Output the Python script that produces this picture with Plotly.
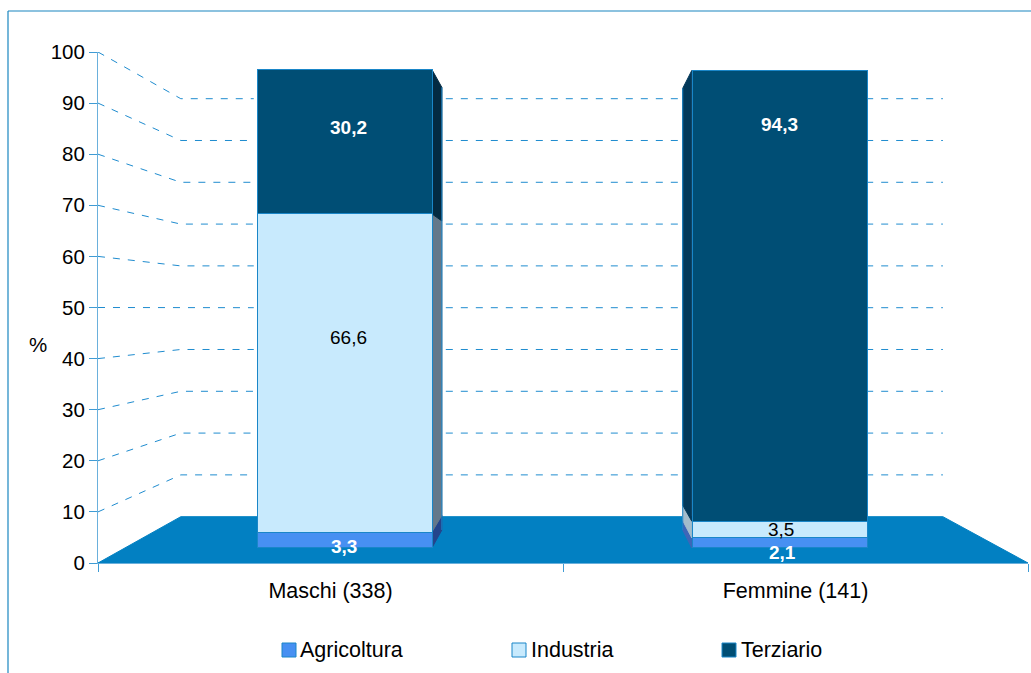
import plotly.graph_objects as go

# ---------- data ----------
groups = ["Maschi (338)", "Femmine (141)"]
series_names = ["Agricoltura", "Industria", "Terziario"]
agricoltura = [3.3, 2.1]
industria = [66.6, 3.5]
terziario = [30.2, 94.3]
value_labels = [["3,3", "2,1"], ["66,6", "3,5"], ["30,2", "94,3"]]
y_ticks = [0, 10, 20, 30, 40, 50, 60, 70, 80, 90, 100]

# ---------- style ----------
FONT = "Liberation Sans, Arial, sans-serif"
W, H = 1031, 673
L, R, T, B = 98, 3, 52, 110
plot_w, plot_h = W - L - R, H - T - B
face_colors = ["#4790f2", "#c8eafd", "#004e75"]
side_colors = {0: ["#24448c", "#64788a", "#032a42"], 1: ["#3d66b8", "#a3bccb", "#03395a"]}
label_colors = ["white", "black", "white"]
label_bold = [True, False, True]
LINE = "#1a86c8"
GRID = "#1f8ccf"
FLOOR = "#0280c2"

X_RANGE = [0, 2]
Y_RANGE = [0, 100]
BAR_Y_RANGE = [-3.15, 103.76]      # secondary scale used by the perspective bars
bar_left_offset = [-0.157, -0.2205]
bar_width = 0.376
bar_center_x = [0.53, 1.465]
side_dx = [0.0215, -0.0195]        # depth of the bar side faces, signed
side_scale = 0.925
wall_x = [0.178, 1.817]
wall_scale = 0.818
wall_mid = 49.8
gaps = [(0.335, 0.748), (1.26, 1.652)]  # bar shadows in gridlines
label_x = [[0.53, 1.471], [0.538, 1.469], [0.538, 1.465]]
label_y = [[0.4, -1.0], [44.1, 3.8], [87.9, 88.5]]


def bar_to_main(v):
    px = (v - BAR_Y_RANGE[0]) / (BAR_Y_RANGE[1] - BAR_Y_RANGE[0])
    return px * 100


def perspective(v, scale):
    return wall_mid + (v - wall_mid) * scale


fig = go.Figure()

# floor
floor_y = perspective(0, wall_scale)
fig.add_trace(go.Scatter(
    x=[X_RANGE[0], wall_x[0], wall_x[1], X_RANGE[1], X_RANGE[0]],
    y=[0, floor_y, floor_y, 0, 0],
    mode="lines", fill="toself", fillcolor=FLOOR, line=dict(color=FLOOR, width=1),
    hoverinfo="skip", showlegend=False, xaxis="x", yaxis="y"))

# perspective gridlines
for tick in y_ticks[1:]:
    by = perspective(tick, wall_scale)
    xs = [X_RANGE[0], wall_x[0], gaps[0][0], None, gaps[0][1], gaps[1][0], None, gaps[1][1], wall_x[1]]
    ys = [tick, by, by, None, by, by, None, by, by]
    fig.add_trace(go.Scatter(
        x=xs, y=ys, mode="lines", line=dict(color=GRID, width=1, dash="7px,8px"),
        hoverinfo="skip", showlegend=False, xaxis="x", yaxis="y"))

# bar side faces
all_series = [agricoltura, industria, terziario]
for g in range(len(groups)):
    edge = bar_center_x[g] + (bar_width / 2 if side_dx[g] > 0 else -bar_width / 2)
    base = 0.0
    for s, vals in enumerate(all_series):
        y0, y1 = bar_to_main(base), bar_to_main(base + vals[g])
        fig.add_trace(go.Scatter(
            x=[edge, edge + side_dx[g], edge + side_dx[g], edge, edge],
            y=[y0, perspective(y0, side_scale), perspective(y1, side_scale), y1, y0],
            mode="lines", fill="toself", fillcolor=side_colors[g][s],
            line=dict(color=side_colors[g][s], width=1),
            hoverinfo="skip", showlegend=False, xaxis="x", yaxis="y"))
        base += vals[g]
    fig.add_trace(go.Scatter(
        x=[edge + side_dx[g]] * 2,
        y=[perspective(bar_to_main(0), side_scale), perspective(bar_to_main(base), side_scale)],
        mode="lines", line=dict(color=LINE, width=1),
        hoverinfo="skip", showlegend=False, xaxis="x", yaxis="y"))

# stacked front faces
for s, vals in enumerate(all_series):
    fig.add_trace(go.Bar(
        x=groups, y=vals, name=series_names[s], offset=bar_left_offset, width=bar_width,
        marker=dict(color=face_colors[s], line=dict(color=LINE, width=1)),
        showlegend=False, xaxis="x2", yaxis="y2"))

# value labels
annotations = []
for s in range(len(series_names)):
    for g in range(len(groups)):
        txt = value_labels[s][g]
        annotations.append(dict(
            x=label_x[s][g], y=label_y[s][g], xref="x", yref="y2",
            text=f"<b>{txt}</b>" if label_bold[s] else txt, showarrow=False,
            font=dict(family=FONT, size=19, color=label_colors[s]),
            xanchor="center", yanchor="middle"))


def px_x(p):
    return (p - L) / plot_w


def px_y(p):
    return 1 - (p - T) / plot_h


annotations.append(dict(
    x=px_x(38), y=px_y(344), xref="paper", yref="paper", text="%", showarrow=False,
    font=dict(family=FONT, size=20.5, color="black"), xanchor="center", yanchor="middle"))

# frame
shapes = [
    dict(type="line", xref="paper", yref="paper", x0=px_x(8), x1=px_x(8), y0=px_y(11), y1=px_y(673),
         line=dict(color="#1a86c0", width=1.2), layer="below"),
    dict(type="line", xref="paper", yref="paper", x0=px_x(8), x1=px_x(1031), y0=px_y(11), y1=px_y(11),
         line=dict(color="#1a86c0", width=1.2), layer="below"),
]

# legend
legend_marker_x = [282, 512, 722]
legend_text_x = [298, 529, 739]
for s, name in enumerate(series_names):
    shapes.append(dict(
        type="rect", xref="paper", yref="paper",
        x0=px_x(legend_marker_x[s]), x1=px_x(legend_marker_x[s] + 14),
        y0=px_y(657), y1=px_y(643),
        fillcolor=face_colors[s], line=dict(color=LINE, width=1)))
    annotations.append(dict(
        x=px_x(legend_text_x[s]), y=px_y(650), xref="paper", yref="paper", text=name,
        showarrow=False, font=dict(family=FONT, size=21.5, color="black"),
        xanchor="left", yanchor="middle"))

fig.update_layout(
    width=W, height=H, margin=dict(l=L, r=R, t=T, b=B, autoexpand=False),
    paper_bgcolor="white", plot_bgcolor="white", barmode="stack", showlegend=False,
    font=dict(family=FONT, size=20, color="black"),
    xaxis=dict(range=X_RANGE, visible=False, fixedrange=True),
    yaxis=dict(range=Y_RANGE, tickvals=y_ticks, ticks="outside", ticklen=8, tickwidth=1,
               tickcolor="#3f9bd4", linecolor="#6ab0dc", linewidth=1, showline=True,
               showgrid=False, zeroline=False, tickfont=dict(family=FONT, size=20.5), fixedrange=True),
    xaxis2=dict(type="category", categoryorder="array", categoryarray=groups, range=[-0.5, 1.5],
                overlaying="x", anchor="y2", side="bottom", tickson="boundaries", ticks="outside",
                ticklen=8, tickwidth=1, tickcolor="#3f9bd4", showline=True, linecolor="#6ab0dc",
                showgrid=False, tickfont=dict(family=FONT, size=21.5), ticklabelstandoff=8,
                fixedrange=True),
    yaxis2=dict(range=BAR_Y_RANGE, overlaying="y", anchor="x2", visible=False, fixedrange=True),
    annotations=annotations, shapes=shapes,
)

fig.write_html("out.html", config={"displayModeBar": False},
               post_script="document.body.style.margin='0';document.body.style.overflow='hidden';")
